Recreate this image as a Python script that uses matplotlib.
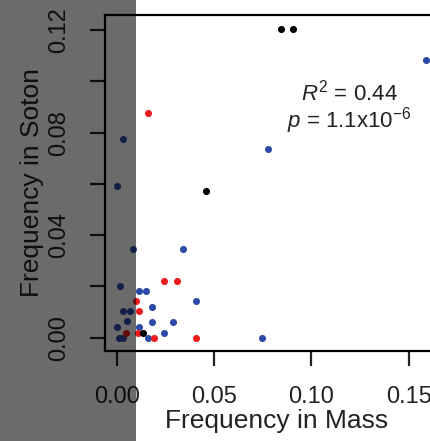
# scatter of allele frequency, Mass vs Soton
import matplotlib
matplotlib.use('Agg')
import matplotlib.pyplot as plt
from matplotlib.patches import Rectangle

plt.rcParams['font.family'] = ['Liberation Sans', 'DejaVu Sans']
plt.rcParams['mathtext.fontset'] = 'custom'
plt.rcParams['mathtext.rm'] = 'Liberation Sans'
plt.rcParams['mathtext.it'] = 'Liberation Sans:italic'

blue_mass = [0.0082, 0.0339, 0.0017, 0.0116, 0.0150, 0.0407, 0.0034, 0.0068,
             0.0180, 0.0051, 0.0180, 0.0291, 0.0000, 0.0116, 0.0243, 0.0013,
             0.0034, 0.0162, 0.0747, 0.0034, 0.0000, 0.0778, 0.1586]
blue_soton = [0.0346, 0.0346, 0.0203, 0.0183, 0.0183, 0.0143, 0.0104, 0.0104,
              0.0121, 0.0065, 0.0060, 0.0060, 0.0041, 0.0041, 0.0019, 0.0000,
              0.0000, 0.0000, 0.0000, 0.0777, 0.0592, 0.0738, 0.1085]
red_mass = [0.0162, 0.0243, 0.0311, 0.0099, 0.0116, 0.0048, 0.0111, 0.0193, 0.0407]
red_soton = [0.0878, 0.0222, 0.0222, 0.0143, 0.0104, 0.0019, 0.0019, 0.0000, 0.0000]
black_mass = [0.0133, 0.0457, 0.0842, 0.0904]
black_soton = [0.0017, 0.0571, 0.1205, 0.1205]

W, H = 431, 441
fig = plt.figure(figsize=(W / 100, H / 100), dpi=100)

xmin, xmax = -0.006, 0.17
ymin, ymax = -0.0052, 0.1259
left_px, top_px, bottom_px = 105, 15, 351
right_px = 116.7 + xmax * 1948
ax = fig.add_axes([left_px / W, (H - bottom_px) / H,
                   (right_px - left_px) / W, (bottom_px - top_px) / H])

ax.scatter(blue_mass, blue_soton, s=26, color='#2d4aa8', linewidths=0, zorder=3)
ax.scatter(red_mass, red_soton, s=26, color='#f01c1c', linewidths=0, zorder=3)
ax.scatter(black_mass, black_soton, s=26, color='black', linewidths=0, zorder=3)

ax.set_xlim(xmin, xmax)
ax.set_ylim(ymin, ymax)
for side in ['top', 'bottom', 'left', 'right']:
    ax.spines[side].set_linewidth(1.6)

ax.set_xticks([0, 0.05, 0.10, 0.15])
ax.set_xticklabels(['0.00', '0.05', '0.10', '0.15'])
ax.set_yticks([0, 0.04, 0.08, 0.12])
ax.set_yticklabels(['0.00', '0.04', '0.08', '0.12'])
ax.set_yticks([0.02, 0.06, 0.10], minor=True)
ax.tick_params(which='both', length=11, width=1.6, labelsize=17,
               color='#222222', labelcolor='#222222')
ax.tick_params(axis='x', pad=14)
ax.tick_params(axis='y', pad=14)
plt.setp(ax.get_yticklabels(), rotation=90, va='center')

ax.set_xlabel('Frequency in Mass', fontsize=19, labelpad=1, color='#222222')
ax.set_ylabel('Frequency in Soton', fontsize=19, labelpad=3, color='#222222')

ax.text(0.1195, 0.0897, r'$R^2$ = 0.44' + '\n' + r'$p$ = 1.1x10$^{-6}$',
        fontsize=16, ha='center', va='center', multialignment='center',
        linespacing=0.95, color='#222222')

# dark shade over left part of the picture
fig.patches.append(Rectangle((0, 0), 136 / W, 1, transform=fig.transFigure,
                             facecolor='black', alpha=0.58, zorder=10))

fig.savefig('out.png', dpi=100)
